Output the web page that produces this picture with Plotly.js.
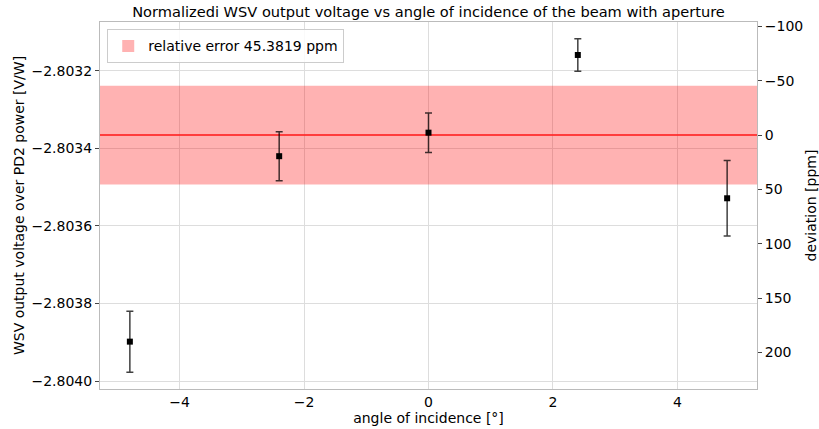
<!DOCTYPE html>
<html>
<head>
<meta charset="utf-8">
<script src="https://cdn.plot.ly/plotly-3.0.1.min.js"></script>
<style>html,body{margin:0;padding:0;background:#fff;}#chart{width:819px;height:429px;}</style>
</head>
<body>
<div id="chart"></div>
<script>
// Data
const angles = [-4.8, -2.4, 0, 2.4, 4.8];
const voltages = [-2.8038985, -2.8034204, -2.8033598, -2.8031595, -2.8035289];
const errors = [0.0000786, 0.0000631, 0.0000508, 0.0000420, 0.0000974];
const referenceValue = -2.803366;
const relErrorPpm = 45.3819;
const xLimits = [-5.28, 5.28];
const yLimits = [-2.8040206, -2.8030745];
const xTicks = [-4, -2, 0, 2, 4];
const yTicks = [-2.8040, -2.8038, -2.8036, -2.8034, -2.8032];
const ppmTicks = [-100, -50, 0, 50, 100, 150, 200];

const FONT = 'DejaVu Sans, sans-serif';
const toPpm = v => (v - referenceValue) / referenceValue * 1e6;
const bandLo = referenceValue * (1 + relErrorPpm * 1e-6);
const bandHi = referenceValue * (1 - relErrorPpm * 1e-6);

const band = {
  type: 'bar',
  x: [(xLimits[0] + xLimits[1]) / 2],
  width: [xLimits[1] - xLimits[0]],
  base: [bandLo],
  y: [bandHi - bandLo],
  marker: {color: 'rgba(255,0,0,0.3)', line: {width: 0}},
  name: 'relative error ' + relErrorPpm + ' ppm',
  showlegend: true,
  hoverinfo: 'skip'
};
const refLine = {
  type: 'scatter', mode: 'lines',
  x: xLimits, y: [referenceValue, referenceValue],
  line: {color: 'rgba(255,40,40,0.85)', width: 2},
  showlegend: false, hoverinfo: 'skip'
};
const points = {
  type: 'scatter', mode: 'markers',
  x: angles, y: voltages,
  error_y: {type: 'data', array: errors, visible: true, color: 'rgba(0,0,0,0.75)', thickness: 1.5, width: 3.5},
  marker: {symbol: 'square', size: 6, color: '#000'},
  showlegend: false
};
const ppmTrace = {
  type: 'scatter', mode: 'markers',
  x: angles, y: voltages.map(toPpm), yaxis: 'y2',
  marker: {opacity: 0}, showlegend: false, hoverinfo: 'skip'
};

const layout = {
  width: 819, height: 429,
  margin: {l: 100, r: 62, t: 22, b: 40},
  paper_bgcolor: '#fff', plot_bgcolor: '#fff',
  font: {family: FONT, size: 14, color: '#000'},
  showlegend: true,
  title: {text: 'Normalizedi WSV output voltage vs angle of incidence of the beam with aperture',
          font: {family: FONT, size: 14.6, color: '#000'},
          x: 0.5, xref: 'paper', xanchor: 'center', y: 0.972, yref: 'container', yanchor: 'middle'},
  xaxis: {
    range: xLimits, tickvals: xTicks, ticktext: xTicks.map(v => v < 0 ? '\u2212' + Math.abs(v) : String(v)),
    showgrid: true, gridcolor: '#dddddd', gridwidth: 1, zeroline: false,
    showline: true, linecolor: '#bbbbbb', linewidth: 1, mirror: true,
    ticks: 'outside', ticklen: 0, tickfont: {family: FONT, size: 14},
    title: {text: 'angle of incidence [°]', font: {family: FONT, size: 14}, standoff: 4}
  },
  yaxis: {
    range: yLimits, tickvals: yTicks, ticktext: yTicks.map(v => '\u2212' + Math.abs(v).toFixed(4)),
    showgrid: true, gridcolor: '#dddddd', gridwidth: 1, zeroline: false,
    showline: true, linecolor: '#bbbbbb', linewidth: 1, mirror: true,
    ticks: 'outside', ticklen: 4, tickcolor: '#444', tickfont: {family: FONT, size: 14},
    title: {text: 'WSV output voltage over PD2 power [V/W]', font: {family: FONT, size: 14}, standoff: 3}
  },
  yaxis2: {
    overlaying: 'y', side: 'right',
    range: [toPpm(yLimits[0]), toPpm(yLimits[1])],
    tickvals: ppmTicks, ticktext: ppmTicks.map(v => v < 0 ? '\u2212' + Math.abs(v) : String(v)),
    showgrid: false, zeroline: false, showline: false,
    ticks: 'outside', ticklen: 4, tickcolor: '#444', tickfont: {family: FONT, size: 14},
    title: {text: 'deviation [ppm]', font: {family: FONT, size: 14}, standoff: 10}
  },
  legend: {
    x: 0.011, y: 0.98, xanchor: 'left', yanchor: 'top',
    bgcolor: 'rgba(255,255,255,0.85)', bordercolor: '#cccccc', borderwidth: 1,
    font: {family: FONT, size: 14}
  }
};

Plotly.newPlot('chart', [band, refLine, points, ppmTrace], layout, {staticPlot: true, displayModeBar: false});
</script>
</body>
</html>
